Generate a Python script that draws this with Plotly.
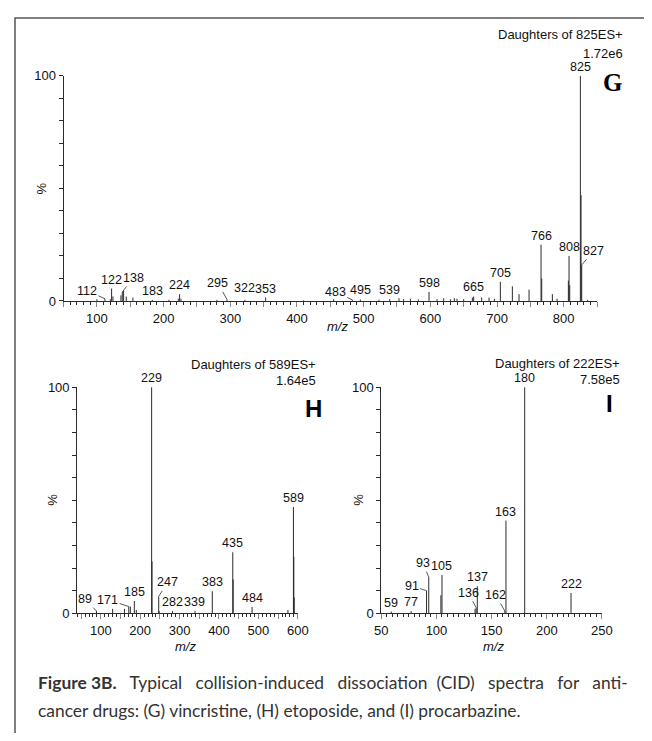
import plotly.graph_objects as go

# the page keeps the browser's 8px body margin, so the figure is 636x725
OFF = 8
W, H = 652 - 2 * OFF, 741 - 2 * OFF

# ---------------- data ----------------
# Panel G: daughters of 825 (vincristine)
g_mz = [100, 112, 120, 122, 124, 136, 138, 140, 144, 154, 183, 208, 222, 224, 226,
        280, 295, 322, 353, 410, 455, 483, 495, 523, 539, 553, 560, 570, 582, 598,
        610, 620, 630, 636, 640, 650, 663, 665, 677, 688, 696, 705, 723, 733, 748,
        766, 767, 783, 790, 807, 808, 809, 825, 826, 827, 836]
g_int = [0.8, 1.0, 0.8, 5.5, 2.0, 2.5, 4.0, 4.5, 2.0, 1.5, 0.5, 0.5, 1.0, 3.0, 1.0,
         0.5, 0.7, 0.5, 1.5, 0.3, 0.8, 0.5, 0.7, 0.6, 0.8, 1.2, 0.8, 1.0, 0.7, 4.0,
         0.8, 1.2, 0.8, 1.2, 1.0, 0.8, 1.5, 2.0, 1.5, 1.5, 1.0, 8.5, 6.5, 3.0, 5.0,
         25.0, 10.0, 3.0, 1.0, 9.0, 20.0, 7.0, 100.0, 47.0, 16.0, 0.5]
g_labels = [112, 122, 138, 183, 224, 295, 322, 353, 483, 495, 539, 598, 665, 705,
            766, 808, 825, 827]

# Panel H: daughters of 589 (etoposide)
h_mz = [89, 130, 160, 171, 175, 185, 190, 229, 230, 247, 248, 282, 339, 383, 435,
        436, 484, 575, 589, 590, 591]
h_int = [1.0, 2.0, 2.0, 3.0, 3.0, 5.5, 1.5, 100.0, 23.0, 7.5, 1.0, 1.0, 1.0, 9.8, 27.0,
         15.0, 2.8, 1.5, 47.0, 25.0, 7.0]
h_labels = [89, 171, 185, 229, 247, 282, 339, 383, 435, 484, 589]

# Panel I: daughters of 222 (procarbazine)
i_mz = [59, 77, 91, 93, 104, 105, 135, 136, 137, 162, 163, 180, 222]
i_int = [0.8, 1.0, 10.0, 16.0, 8.0, 17.0, 2.0, 2.5, 12.0, 1.0, 41.0, 100.0, 9.0]
i_labels = [59, 77, 91, 93, 105, 136, 137, 162, 163, 180, 222]

caption_line1_bold = "Figure 3B."
caption_line1_words = ["Typical", "collision-induced", "dissociation", "(CID)", "spectra",
                       "for", "anti-"]
caption_line2 = "cancer drugs: (G) vincristine, (H) etoposide, and (I) procarbazine."

panels = [
    dict(name="G", mz=g_mz, it=g_int, labels=g_labels, parent="825", scale="1.72e6",
         xr=[50, 850], xt=list(range(100, 801, 100)), xmaj=50, xminor=10),
    dict(name="H", mz=h_mz, it=h_int, labels=h_labels, parent="589", scale="1.64e5",
         xr=[40, 600], xt=list(range(100, 601, 100)), xmaj=50, xminor=10),
    dict(name="I", mz=i_mz, it=i_int, labels=i_labels, parent="222", scale="7.58e5",
         xr=[50, 250], xt=list(range(50, 251, 50)), xmaj=50, xminor=5),
]

# ---------------- layout geometry (page pixels) ----------------
geom = {
    "G": dict(x0=58, x1=607, ytop=70, ybot=300),
    "H": dict(x0=72, x1=299, ytop=388, ybot=619),
    "I": dict(x0=385, x1=612, ytop=388, ybot=619),
}
# leader-line offsets for labels (pixels, text relative to peak top)
leaders = {
    "G": {112: (-18, -8), 138: (11, -14), 295: (-9, -16), 483: (-17, -8), 827: (12, -14)},
    "H": {89: (-11, -12), 171: (-21, -7), 247: (9, -14)},
    "I": {91: (-15, -5), 93: (-6, -14), 136: (-8, -15), 162: (-9, -16)},
}
shifts = {"G": {322: 3}, "H": {}, "I": {}}

def px(x):
    return (x - OFF) / W

def py(y):
    return 1 - (y - OFF) / H

FONT = "Liberation Sans, Arial, sans-serif"
INK = "#2b2b2b"
TXT = "#111"

fig = go.Figure()
annotations = []

for k, p in enumerate(panels):
    n = "" if k == 0 else str(k + 1)
    g = geom[p["name"]]
    xs, ys = [], []
    for m, v in zip(p["mz"], p["it"]):
        xs += [m, m, None]
        ys += [0, v, None]
    fig.add_trace(go.Scatter(x=xs, y=ys, mode="lines", xaxis="x" + n, yaxis="y" + n,
                             line=dict(color=INK, width=1), hoverinfo="skip",
                             showlegend=False, cliponaxis=False))
    lo, hi = p["xr"]
    tv = list(range(lo - lo % p["xmaj"], hi + 1, p["xmaj"]))
    tv = [t for t in tv if lo <= t <= hi]
    tt = [str(t) if t in p["xt"] else "" for t in tv]
    fig.update_layout({
        "xaxis" + n: dict(domain=[px(g["x0"]), px(g["x1"])], range=[lo, hi],
                          anchor="y" + n, showgrid=False, zeroline=False,
                          showline=True, linecolor=INK, linewidth=1,
                          ticks="outside", ticklen=5, tickcolor="#888", tickwidth=1,
                          tickmode="array", tickvals=tv, ticktext=tt,
                          tickfont=dict(family=FONT, size=13, color=TXT),
                          minor=dict(dtick=p["xminor"], tick0=0, ticks="outside",
                                     ticklen=3, tickcolor=INK, tickwidth=1)),
        "yaxis" + n: dict(domain=[py(g["ybot"]), py(g["ytop"])], range=[0, 100],
                          anchor="x" + n, showgrid=False, zeroline=False,
                          showline=True, linecolor=INK, linewidth=1,
                          ticks="outside", ticklen=4, tickcolor=INK,
                          tickmode="array", tickvals=list(range(0, 101, 10)),
                          ticktext=["0"] + [""] * 9 + ["100"],
                          tickfont=dict(family=FONT, size=13, color=TXT)),
    })
    # peak labels
    lookup = dict(zip(p["mz"], p["it"]))
    for lab in p["labels"]:
        v = lookup[lab]
        if lab in leaders[p["name"]]:
            ax, ay = leaders[p["name"]][lab]
            annotations.append(dict(x=lab, y=v, xref="x" + n, yref="y" + n, text=str(lab),
                                    showarrow=True, arrowhead=0, arrowwidth=0.8,
                                    arrowcolor=INK, ax=ax, ay=ay, standoff=0,
                                    font=dict(family=FONT, size=12.5, color=TXT)))
        else:
            annotations.append(dict(x=lab, y=v, xref="x" + n, yref="y" + n, text=str(lab),
                                    showarrow=False, yanchor="bottom",
                                    yshift=shifts[p["name"]].get(lab, 0),
                                    font=dict(family=FONT, size=12.5, color=TXT)))

# headers, panel letters, axis titles (page pixels)
hdr = {"G": (636, 28, 47), "H": (320, 365, 381), "I": (633, 364, 380)}
letters = {"G": (623, 77, "Liberation Serif, DejaVu Serif, serif", 25),
           "H": (315, 410, FONT, 24), "I": (620, 405, FONT, 24)}
pct = {"G": (35, 185), "H": (47, 503), "I": (362, 503)}
mzt = {"G": (340, 326), "H": (183, 653), "I": (500, 653)}
for p in panels:
    nm = p["name"]
    xr, y1, y2 = hdr[nm]
    annotations.append(dict(x=px(xr), y=py(y1), xref="paper", yref="paper",
                            text=f"Daughters of {p['parent']}ES+", showarrow=False,
                            xanchor="right", yanchor="middle",
                            font=dict(family=FONT, size=13, color=TXT)))
    annotations.append(dict(x=px(xr), y=py(y2), xref="paper", yref="paper",
                            text=p["scale"], showarrow=False,
                            xanchor="right", yanchor="middle",
                            font=dict(family=FONT, size=13, color=TXT)))
    lx, ly, lf, ls = letters[nm]
    annotations.append(dict(x=px(lx), y=py(ly), xref="paper", yref="paper",
                            text=f"<b>{nm}</b>", showarrow=False,
                            xanchor="center", yanchor="middle",
                            font=dict(family=lf, size=ls, color="#000")))
    cx, cy = pct[nm]
    annotations.append(dict(x=px(cx), y=py(cy), xref="paper", yref="paper",
                            text="%", showarrow=False, textangle=-90,
                            xanchor="center", yanchor="middle",
                            font=dict(family=FONT, size=13, color=TXT)))
    mx, my = mzt[nm]
    annotations.append(dict(x=px(mx), y=py(my), xref="paper", yref="paper",
                            text="<i>m/z</i>", showarrow=False,
                            xanchor="center", yanchor="middle",
                            font=dict(family=FONT, size=13, color=TXT)))

# caption: first line justified (extra word spacing), last line ragged
CAP = "Lato, Open Sans, sans-serif"
CAPSIZE = 17.4
NB = "\u00a0"
gaps = [2, 2, 2, 1, 2, 2, 2]
line1 = f"<b>{caption_line1_bold}</b>"
for w, gsz in zip(caption_line1_words, gaps):
    line1 += " " + NB * gsz + w
annotations.append(dict(x=px(30), y=py(690), xref="paper", yref="paper",
                        text=line1, showarrow=False, xanchor="left", yanchor="middle",
                        font=dict(family=CAP, size=CAPSIZE, color="#333")))
annotations.append(dict(x=px(30), y=py(718), xref="paper", yref="paper",
                        text=caption_line2, showarrow=False, xanchor="left", yanchor="middle",
                        font=dict(family=CAP, size=CAPSIZE, color="#333")))

fig.update_layout(
    width=W, height=H, autosize=False,
    margin=dict(l=0, r=0, t=0, b=0),
    paper_bgcolor="white", plot_bgcolor="white",
    annotations=annotations,
    shapes=[dict(type="rect", xref="paper", yref="paper",
                 x0=px(8), x1=1.05, y0=-0.05, y1=py(11),
                 line=dict(color="#555", width=1.5), fillcolor="rgba(0,0,0,0)")],
)

fig.write_html("out.html")
